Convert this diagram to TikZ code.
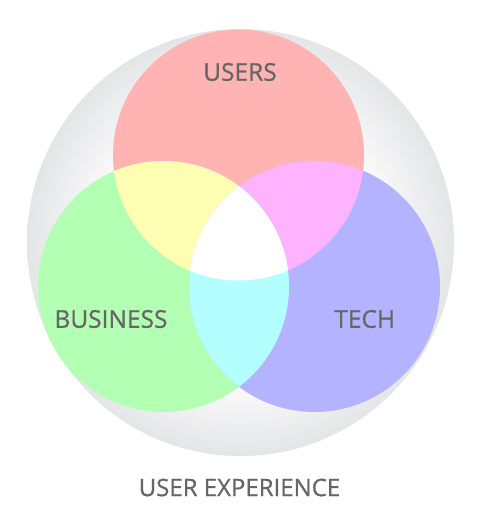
\documentclass[tikz,border=0pt]{standalone}
\usepackage{fontspec}
\setmainfont{Open Sans}[FakeBold=0.7]
\usepackage{tikz}
\usepackage{xcolor}

\definecolor{usersred}{HTML}{FFB3B3}
\definecolor{businessgreen}{HTML}{B3FFB3}
\definecolor{techblue}{HTML}{B3B3FF}
\definecolor{ubyellow}{HTML}{FFFFB3}
\definecolor{utmagenta}{HTML}{FFB3FF}
\definecolor{btcyan}{HTML}{B3FFFF}
\definecolor{uxgray}{HTML}{E4E5E7}
\definecolor{labelgray}{HTML}{666666}
\pgfdeclareradialshading{uxglow}{\pgfpointorigin}{color(0bp)=(white); color(15bp)=(white); color(25bp)=(uxgray); color(50bp)=(uxgray)}

\begin{document}
\begin{tikzpicture}[x=1pt,y=-1pt,
	lbl/.style={text=labelgray,inner sep=0pt,font=\fontsize{24.5}{24.5}\selectfont}]
	\useasboundingbox (0,0) rectangle (481,521);
	\coordinate (ux) at (240.5,242.5);
	\coordinate (u) at (238.5,155);	% users
	\coordinate (b) at (163.5,286.5);	% business
	\coordinate (t) at (314.5,286.5);	% tech
	\shade[shading=uxglow] (ux) circle[radius=213.5];
	\fill[usersred] (u) circle[radius=125.5];
	\fill[businessgreen] (b) circle[radius=125.5];
	\fill[techblue] (t) circle[radius=125.5];
	\begin{scope}
		\clip (u) circle[radius=125.5];
		\fill[ubyellow] (b) circle[radius=125.5];
		\fill[utmagenta] (t) circle[radius=125.5];
	\end{scope}
	\begin{scope}
		\clip (b) circle[radius=125.5];
		\fill[btcyan] (t) circle[radius=125.5];
	\end{scope}
	\begin{scope}%all three
		\clip (b) circle[radius=125.5];
		\clip (u) circle[radius=125.5];
		\fill[white] (t) circle[radius=125.5];
	\end{scope}
	\node[lbl] (users) at (240,72) {USERS};
	\node[lbl] (business) at (111,319) {BUSINESS};
	\node[lbl] (tech) at (364.7,319) {TECH};
	\node[lbl,font=\fontsize{24}{24}\selectfont] (uxlabel) at (239.5,487.5) {USER EXPERIENCE};
\end{tikzpicture}
\end{document}
